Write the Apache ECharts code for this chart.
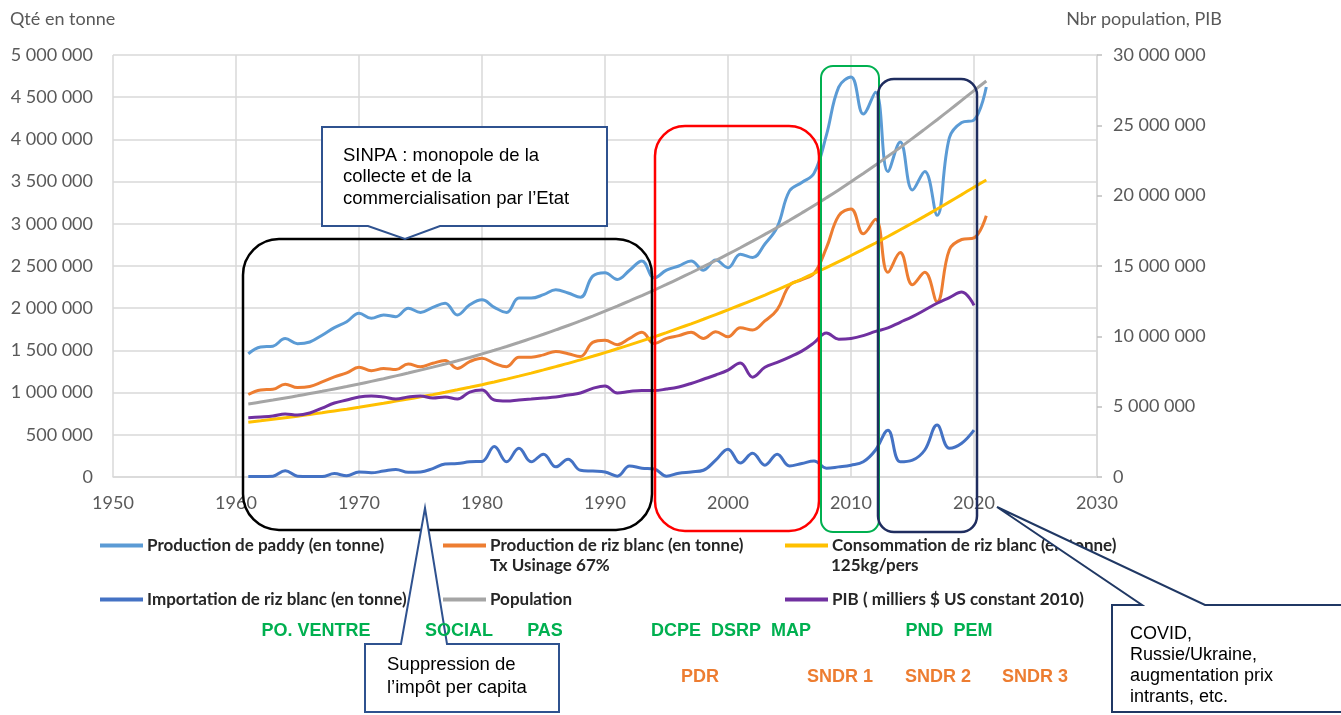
<!DOCTYPE html>
<html>
<head>
<meta charset="utf-8">
<script src="https://cdn.jsdelivr.net/npm/echarts@6/dist/echarts.min.js"></script>
<style>html,body{margin:0;padding:0;background:#fff;}#c{width:1341px;height:715px;}</style>
</head>
<body>
<div id="c"></div>
<script>
const years = [1961,1962,1963,1964,1965,1966,1967,1968,1969,1970,1971,1972,1973,1974,1975,1976,1977,1978,1979,1980,1981,1982,1983,1984,1985,1986,1987,1988,1989,1990,1991,1992,1993,1994,1995,1996,1997,1998,1999,2000,2001,2002,2003,2004,2005,2006,2007,2008,2009,2010,2011,2012,2013,2014,2015,2016,2017,2018,2019,2020,2021];

const paddy = [1460000,1540000,1550000,1640000,1580000,1600000,1680000,1770000,1840000,1940000,1880000,1920000,1900000,2000000,1950000,2010000,2060000,1920000,2040000,2100000,2010000,1950000,2120000,2120000,2160000,2220000,2180000,2130000,2380000,2420000,2340000,2450000,2560000,2360000,2450000,2500000,2560000,2450000,2570000,2480000,2640000,2600000,2760000,2960000,3390000,3490000,3600000,4050000,4620000,4740000,4300000,4560000,3620000,3970000,3400000,3620000,3100000,4020000,4200000,4230000,4620000];

const rizBlanc = [978000,1032000,1039000,1099000,1059000,1072000,1126000,1186000,1233000,1300000,1260000,1286000,1273000,1340000,1307000,1347000,1380000,1286000,1367000,1407000,1347000,1307000,1420000,1420000,1447000,1487000,1461000,1427000,1595000,1621000,1568000,1642000,1715000,1581000,1642000,1675000,1715000,1642000,1722000,1662000,1769000,1742000,1849000,1983000,2271000,2338000,2412000,2714000,3095000,3176000,2881000,3055000,2425000,2660000,2278000,2425000,2077000,2693000,2814000,2834000,3095000];

const consommation = [649000,666000,684000,703000,721000,741000,761000,783000,804000,826000,850000,874000,899000,924000,950000,976000,1004000,1033000,1063000,1094000,1126000,1160000,1195000,1231000,1269000,1308000,1346000,1388000,1430000,1474000,1519000,1565000,1613000,1661000,1711000,1763000,1815000,1869000,1924000,1980000,2038000,2096000,2156000,2218000,2281000,2346000,2413000,2481000,2551000,2624000,2698000,2773000,2850000,2929000,3009000,3091000,3175000,3260000,3346000,3434000,3519000];

const importation = [5000,5000,10000,75000,10000,5000,5000,40000,15000,60000,50000,70000,90000,55000,60000,100000,155000,160000,180000,185000,360000,180000,340000,180000,270000,120000,210000,80000,70000,60000,10000,130000,105000,95000,10000,45000,60000,80000,200000,330000,165000,280000,140000,270000,130000,160000,190000,105000,120000,140000,180000,320000,555000,180000,200000,320000,615000,340000,400000,555000,null];

const population = [5190000,5330000,5470000,5620000,5770000,5930000,6090000,6260000,6430000,6610000,6800000,6990000,7190000,7390000,7600000,7810000,8030000,8260000,8500000,8750000,9010000,9280000,9560000,9850000,10150000,10460000,10770000,11100000,11440000,11790000,12150000,12520000,12900000,13290000,13690000,14100000,14520000,14950000,15390000,15840000,16300000,16770000,17250000,17740000,18250000,18770000,19300000,19850000,20410000,20990000,21580000,22180000,22800000,23430000,24070000,24730000,25400000,26080000,26770000,27470000,28150000];

const pib = [4220000,4270000,4340000,4480000,4400000,4550000,4900000,5260000,5470000,5690000,5760000,5690000,5550000,5690000,5760000,5620000,5690000,5550000,6040000,6180000,5470000,5400000,5480000,5550000,5620000,5690000,5830000,5970000,6300000,6470000,5970000,6080000,6150000,6150000,6250000,6400000,6650000,6950000,7250000,7600000,8100000,7100000,7800000,8150000,8530000,8950000,9550000,10240000,9800000,9850000,10050000,10350000,10600000,11000000,11400000,11870000,12350000,12750000,13150000,12200000,null];

const seriesNames = ['Production de paddy (en tonne)','Production de riz blanc (en tonne)','Consommation de riz blanc (en tonne)','Importation de riz blanc (en tonne)','Population','PIB ( milliers $ US constant 2010)'];
const leftTicks = {min:0, max:5000000, interval:500000};
const rightTicks = {min:0, max:30000000, interval:5000000};
const xTicks = {min:1950, max:2030, interval:10};

function fmt(v){ return String(v).replace(/\B(?=(\d{3})+(?!\d))/g,' '); }
function pairs(arr){ return years.map((y,i)=>[y,arr[i]]); }

const AX = '#595959';
const FONT = 'Lato, "Open Sans", sans-serif';
const NARROW = '"Liberation Sans Narrow", "Arial Narrow", "Liberation Sans", sans-serif';
const ARIAL = '"Liberation Sans", Arial, sans-serif';

function mkSeries(name, data, color, yIdx){
  return {name, type:'line', data:pairs(data), yAxisIndex:yIdx, smooth:0.4, showSymbol:false, symbol:'none',
    lineStyle:{color, width:3}, itemStyle:{color}, z:3};
}

function legendAt(name, left, top){
  return {data:[name], left, top, icon:'rect', itemWidth:43, itemHeight:4, itemGap:0, selectedMode:false,
    padding:0, textStyle:{fontFamily:FONT, fontSize:17, fontWeight:'bold', color:'#262626', padding:[0,0,0,-1]}};
}

function txt(text, x, y, font, fill, align){
  return {type:'text', z:120, style:{text, x, y, font, fill, textAlign:align||'left', textVerticalAlign:'middle'}};
}

const chart = echarts.init(document.getElementById('c'));
const option = {
  animation:false,
  grid:{left:113, right:244, top:55, bottom:238, containLabel:false},
  xAxis:{type:'value', min:xTicks.min, max:xTicks.max, interval:xTicks.interval,
    axisLine:{show:true, lineStyle:{color:'#D9D9D9', width:1.5}}, axisTick:{show:false},
    axisLabel:{color:AX, fontFamily:FONT, fontSize:18, margin:17, formatter:v=>String(v)},
    splitLine:{show:true, lineStyle:{color:'#D9D9D9', width:1.5}}},
  yAxis:[
    {type:'value', min:leftTicks.min, max:leftTicks.max, interval:leftTicks.interval,
      axisLine:{show:false}, axisTick:{show:false},
      axisLabel:{color:AX, fontFamily:FONT, fontSize:18, margin:20, formatter:fmt},
      splitLine:{show:true, lineStyle:{color:'#D9D9D9', width:1.5}}},
    {type:'value', min:rightTicks.min, max:rightTicks.max, interval:rightTicks.interval, position:'right',
      axisLine:{show:true, lineStyle:{color:'#D9D9D9', width:1.5}},
      axisTick:{show:true, inside:false, length:5, lineStyle:{color:'#BFBFBF', width:1.5}},
      axisLabel:{color:AX, fontFamily:FONT, fontSize:18, margin:16, formatter:fmt},
      splitLine:{show:false}}
  ],
  legend:[
    legendAt(seriesNames[0], 100, 537),
    legendAt(seriesNames[1], 443, 537),
    legendAt(seriesNames[2], 785, 537),
    legendAt(seriesNames[3], 100, 591),
    legendAt(seriesNames[4], 443, 591),
    legendAt(seriesNames[5], 785, 591)
  ],
  series:[
    mkSeries(seriesNames[0], paddy, '#5B9BD5', 0),
    mkSeries(seriesNames[1], rizBlanc, '#ED7D31', 0),
    mkSeries(seriesNames[2], consommation, '#FFC000', 0),
    mkSeries(seriesNames[3], importation, '#4472C4', 0),
    mkSeries(seriesNames[4], population, '#A5A5A5', 1),
    mkSeries(seriesNames[5], pib, '#7030A0', 1)
  ],
  graphic:[
    // axis titles
    txt('Qt\u00e9 en tonne', 10, 19, '18px '+FONT, AX),
    txt('Nbr population, PIB', 1222, 19, '18px '+FONT, AX, 'right'),
    // period boxes
    {type:'rect', z:100, shape:{x:243, y:239, width:409, height:291, r:36}, style:{fill:'none', stroke:'#000', lineWidth:2.5}},
    {type:'rect', z:100, shape:{x:655, y:126, width:164, height:405, r:30}, style:{fill:'none', stroke:'#FF0000', lineWidth:2.5}},
    {type:'rect', z:100, shape:{x:821, y:66, width:58, height:466, r:12}, style:{fill:'none', stroke:'#00B050', lineWidth:2}},
    {type:'rect', z:100, shape:{x:878, y:79, width:99, height:453, r:16}, style:{fill:'none', stroke:'#1F2D5F', lineWidth:2.5}},
    // callouts
    {type:'polygon', z:110, shape:{points:[[322,127],[607,127],[607,226],[440,226],[405,239],[368,226],[322,226]]}, style:{fill:'#fff', stroke:'#2F528F', lineWidth:2}},
    {type:'polygon', z:110, shape:{points:[[365,644],[401,644],[425,508],[447,644],[559,644],[559,712],[365,712]]}, style:{fill:'#fff', stroke:'#2F528F', lineWidth:2}},
    {type:'polygon', z:110, shape:{points:[[1112,605],[1142,605],[997,507],[1205,605],[1350,605],[1350,712],[1112,712]]}, style:{fill:'#fff', stroke:'#203864', lineWidth:2}},
    txt('SINPA : monopole de la', 343, 156, '18.5px '+ARIAL, '#000'),
    txt('collecte et de la', 343, 177, '18.5px '+ARIAL, '#000'),
    txt('commercialisation par l\u2019Etat', 343, 199, '18.5px '+ARIAL, '#000'),
    txt('Suppression de', 387, 665, '18.5px '+ARIAL, '#000'),
    txt('l\u2019imp\u00f4t per capita', 387, 688, '18.5px '+ARIAL, '#000'),
    txt('COVID,', 1130, 634, '18px '+ARIAL, '#000'),
    txt('Russie/Ukraine,', 1130, 655, '18px '+ARIAL, '#000'),
    txt('augmentation prix', 1130, 676, '18px '+ARIAL, '#000'),
    txt('intrants, etc.', 1130, 697, '18px '+ARIAL, '#000'),
    // legend second lines
    txt('Tx Usinage 67%', 490, 566, 'bold 17px '+FONT, '#262626'),
    txt('125kg/pers', 831, 566, 'bold 17px '+FONT, '#262626'),
    // policy labels
    txt('PO. VENTRE', 316, 631, 'bold 18px '+NARROW, '#00B050', 'center'),
    txt('SOCIAL', 459, 631, 'bold 18px '+NARROW, '#00B050', 'center'),
    txt('PAS', 545, 631, 'bold 18px '+NARROW, '#00B050', 'center'),
    txt('DCPE  DSRP  MAP', 731, 631, 'bold 18px '+NARROW, '#00B050', 'center'),
    txt('PND  PEM', 949, 631, 'bold 18px '+NARROW, '#00B050', 'center'),
    txt('PDR', 700, 677, 'bold 18px '+NARROW, '#ED7D31', 'center'),
    txt('SNDR 1', 840, 677, 'bold 18px '+NARROW, '#ED7D31', 'center'),
    txt('SNDR 2', 938, 677, 'bold 18px '+NARROW, '#ED7D31', 'center'),
    txt('SNDR 3', 1035, 677, 'bold 18px '+NARROW, '#ED7D31', 'center')
  ]
};
chart.setOption(option);
</script>
</body>
</html>
